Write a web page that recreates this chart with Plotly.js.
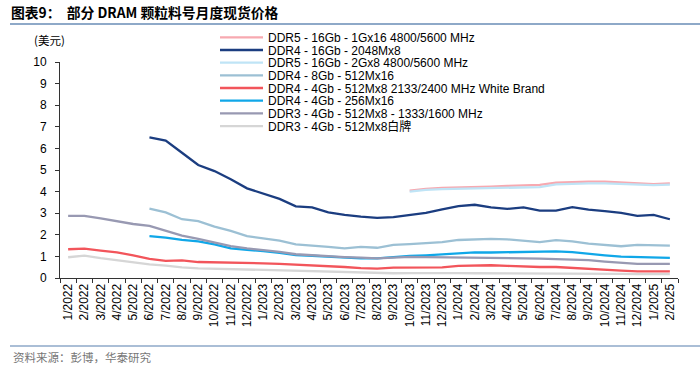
<!DOCTYPE html>
<html>
<head>
<meta charset="utf-8">
<script src="https://cdn.plot.ly/plotly-3.0.1.min.js"></script>
<style>html,body{margin:0;padding:0;background:#fff;}#chart{width:700px;height:368px;}</style>
</head>
<body>
<div id="chart"></div>
<script>
const months = ["1/2022","2/2022","3/2022","4/2022","5/2022","6/2022","7/2022","8/2022","9/2022","10/2022","11/2022","12/2022",
"1/2023","2/2023","3/2023","4/2023","5/2023","6/2023","7/2023","8/2023","9/2023","10/2023","11/2023","12/2023",
"1/2024","2/2024","3/2024","4/2024","5/2024","6/2024","7/2024","8/2024","9/2024","10/2024","11/2024","12/2024",
"1/2025","2/2025"];

const seriesNames = [
  "DDR5 - 16Gb - 1Gx16 4800/5600 MHz",
  "DDR4 - 16Gb - 2048Mx8",
  "DDR5 - 16Gb - 2Gx8 4800/5600 MHz",
  "DDR4 - 8Gb - 512Mx16",
  "DDR4 - 4Gb - 512Mx8 2133/2400 MHz White Brand",
  "DDR4 - 4Gb - 256Mx16",
  "DDR3 - 4Gb - 512Mx8 - 1333/1600 MHz",
  "DDR3 - 4Gb - 512Mx8白牌"
];

const N = null;
const ddr5_1Gx16 = [N,N,N,N,N,N,N,N,N,N,N,N, N,N,N,N,N,N,N,N,N,4.05,4.13,4.17,
  4.18,4.21,4.23,4.26,4.27,4.31,4.41,4.44,4.46,4.46,4.43,4.41,4.35,4.38];
const ddr4_16Gb = [N,N,N,N,N,6.51,6.36,5.80,5.23,4.95,4.57,4.15, 3.92,3.66,3.32,3.27,3.04,2.92,2.84,2.78,2.82,2.92,3.02,3.18,
  3.33,3.39,3.27,3.20,3.27,3.12,3.12,3.28,3.17,3.10,3.02,2.88,2.92,2.72];
const ddr5_2Gx8 = [N,N,N,N,N,N,N,N,N,N,N,N, N,N,N,N,N,N,N,N,N,4.00,4.08,4.11,
  4.13,4.15,4.16,4.18,4.19,4.21,4.33,4.36,4.38,4.38,4.36,4.32,4.30,4.32];
const ddr4_8Gb = [N,N,N,N,N,3.21,3.04,2.72,2.63,2.38,2.18,1.94, 1.84,1.73,1.56,1.51,1.44,1.37,1.44,1.40,1.53,1.57,1.60,1.66,
  1.76,1.79,1.81,1.79,1.71,1.66,1.75,1.70,1.59,1.54,1.47,1.53,1.50,1.50];
const ddr4_4Gb_wb = [1.33,1.36,1.27,1.19,1.05,0.88,0.79,0.82,0.74,0.73,0.71,0.69, 0.68,0.65,0.62,0.59,0.54,0.51,0.46,0.43,0.48,0.49,0.51,0.49,
  0.56,0.59,0.59,0.56,0.53,0.51,0.51,0.46,0.43,0.37,0.34,0.31,0.31,0.31];
const ddr4_4Gb_256 = [N,N,N,N,N,1.94,1.87,1.76,1.70,1.56,1.37,1.30, 1.25,1.16,1.06,1.03,0.99,0.94,0.91,0.91,0.97,1.02,1.05,1.10,
  1.16,1.19,1.18,1.19,1.19,1.20,1.23,1.20,1.11,1.05,0.99,0.96,0.94,0.93];
const ddr3_4Gb = [2.88,2.88,2.76,2.62,2.50,2.41,2.18,1.96,1.81,1.65,1.48,1.37, 1.30,1.21,1.10,1.05,1.00,0.97,0.94,0.91,0.94,0.98,0.97,0.96,
  0.94,0.94,0.94,0.94,0.93,0.90,0.87,0.86,0.83,0.76,0.70,0.65,0.65,0.65];
const ddr3_4Gb_wb = [0.96,1.04,0.92,0.82,0.70,0.63,0.57,0.49,0.45,0.43,0.40,0.37, 0.36,0.34,0.33,0.31,0.29,0.28,0.26,0.23,0.22,0.23,0.24,0.23,
  0.23,0.22,0.22,0.21,0.21,0.20,0.20,0.20,0.20,0.19,0.19,0.18,0.18,0.18];

const seriesValues = [ddr5_1Gx16, ddr4_16Gb, ddr5_2Gx8, ddr4_8Gb, ddr4_4Gb_wb, ddr4_4Gb_256, ddr3_4Gb, ddr3_4Gb_wb];
const colors = ["#f7a9b0","#1b3d80","#bfe4f6","#9cc0d4","#f2555b","#10a7e8","#9899b2","#d6d6d6"];

// plot area pixel geometry
const L = 60, R = 678, T = 62, B = 278;
const W = R - L, H = B - T;
const px = x => (x - L) / W;
const py = y => (B - y) / H;

const legendRows = [37.3, 50.0, 62.6, 75.3, 88.0, 100.7, 113.4, 126.1];
const font = "Liberation Sans, Arial, sans-serif";
const cjk = "Liberation Sans, Noto Sans CJK SC, sans-serif";

const traces = seriesValues.map((vals, i) => ({
  type: "scatter", mode: "lines", x: months, y: vals, name: seriesNames[i],
  line: {color: colors[i], width: 2.3}, connectgaps: false,
  legend: i === 0 ? "legend" : "legend" + (i + 1),
  hoverinfo: "skip"
}));

const layout = {
  width: 700, height: 368,
  margin: {l: L, r: 700 - R, t: T, b: 368 - B, autoexpand: false},
  paper_bgcolor: "#fff", plot_bgcolor: "#fff",
  showlegend: true,
  font: {family: font, size: 12, color: "#000"},
  title: {text: "<b>图表9：  部分 DRAM 颗粒料号月度现货价格</b>", xref: "container", yref: "container",
    x: 11/700, xanchor: "left", y: 1 - 13/368, yanchor: "middle",
    font: {family: "Noto Sans CJK SC, sans-serif", size: 13.8, color: "#000"}},
  xaxis: {type: "category", range: [-0.5, months.length - 0.5], tickson: "boundaries",
    ticks: "outside", ticklen: 4, tickcolor: "#333", tickwidth: 1, showline: true, linecolor: "#333", linewidth: 1,
    showgrid: false, zeroline: false, tickangle: -90, tickfont: {family: font, size: 12, color: "#000"}},
  yaxis: {range: [0, 10], dtick: 1, tick0: 0, ticks: "outside", ticklen: 4, tickcolor: "#333", tickwidth: 1,
    showline: true, linecolor: "#333", linewidth: 1, showgrid: false, zeroline: false,
    ticklabelstandoff: 6, tickfont: {family: font, size: 12, color: "#000"}},
  shapes: [
    {type: "line", xref: "paper", yref: "paper", x0: px(10), x1: px(700), y0: py(24), y1: py(24), line: {color: "#8ea9c8", width: 2}},
    {type: "line", xref: "paper", yref: "paper", x0: px(10), x1: px(700), y0: py(346), y1: py(346), line: {color: "#8ea9c8", width: 1.5}}
  ],
  annotations: [
    {xref: "paper", yref: "paper", x: px(49), y: py(40), text: "(美元)", showarrow: false,
      font: {family: "Noto Sans CJK SC, sans-serif", size: 11.5, color: "#000"}, xanchor: "center", yanchor: "middle"},
    {xref: "paper", yref: "paper", x: px(11), y: py(357), text: "资料来源：彭博，华泰研究", showarrow: false,
      font: {family: "Noto Sans CJK SC, sans-serif", size: 11.5, color: "#777"}, xanchor: "left", yanchor: "middle"}
  ]
};

legendRows.forEach((ry, i) => {
  const key = i === 0 ? "legend" : "legend" + (i + 1);
  layout[key] = {x: px(215), y: py(ry), xanchor: "left", yanchor: "middle", bgcolor: "rgba(0,0,0,0)",
    borderwidth: 0, itemwidth: 43, font: {family: cjk, size: 12, color: "#000"}};
});

Plotly.newPlot("chart", traces, layout, {staticPlot: true, displayModeBar: false});
</script>
</body>
</html>
